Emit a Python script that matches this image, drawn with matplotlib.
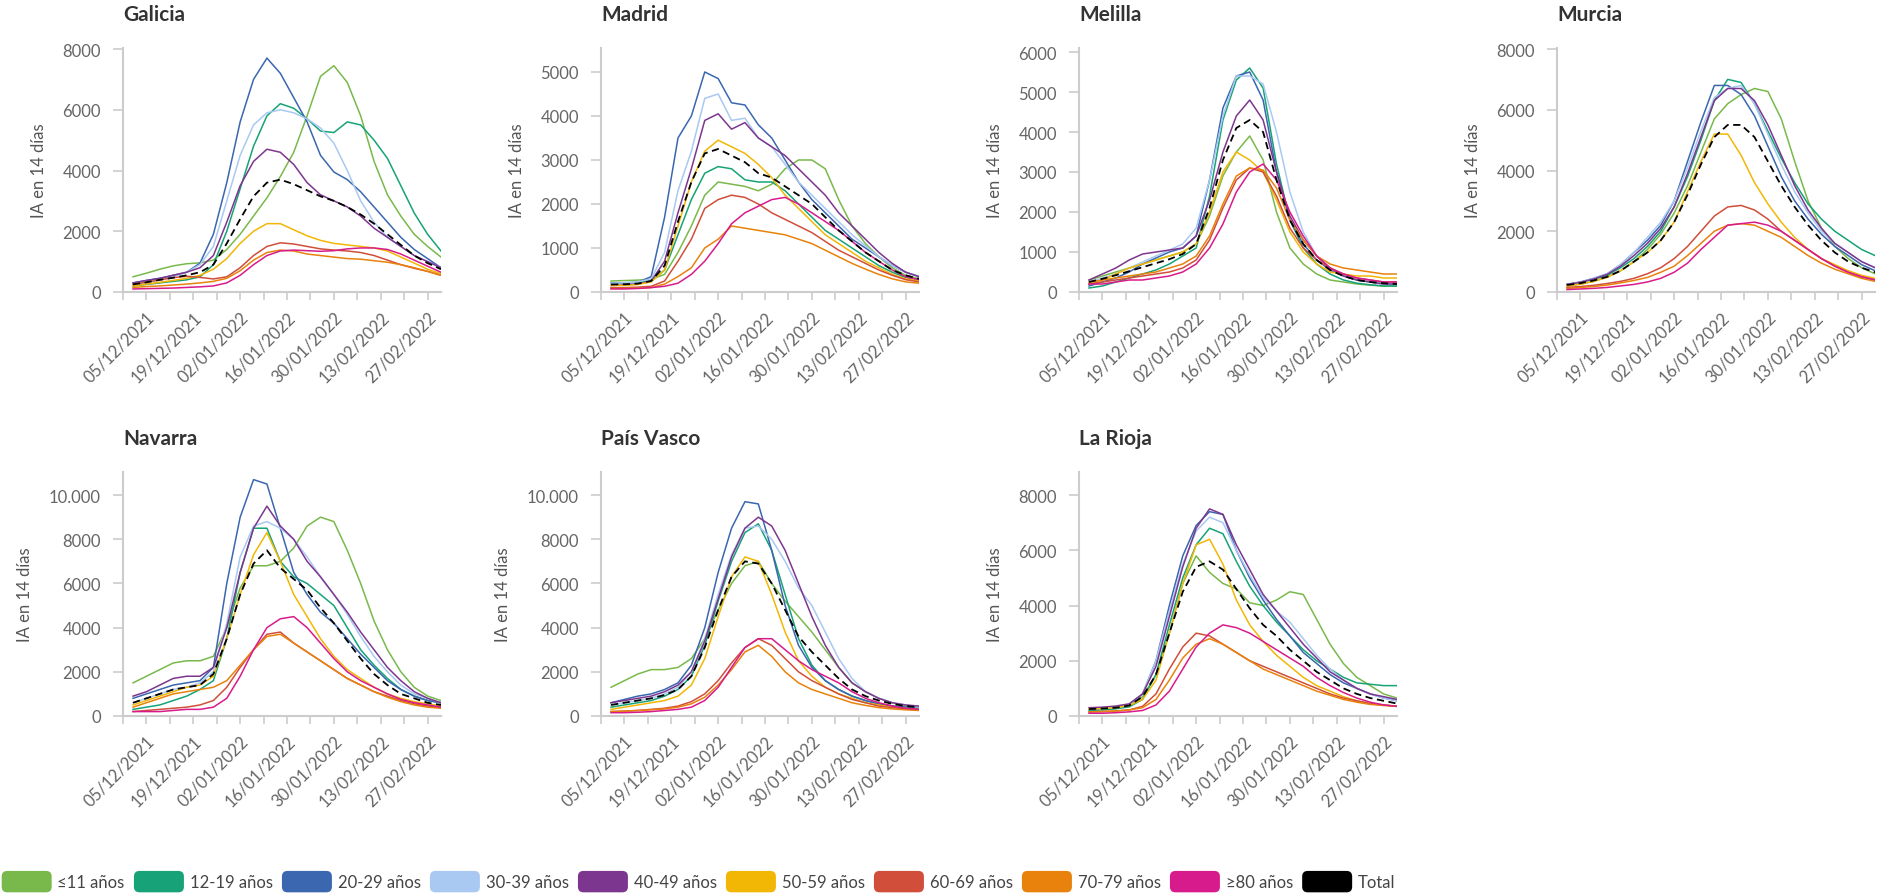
import matplotlib
matplotlib.use('Agg')
import matplotlib.pyplot as plt
import matplotlib.ticker as mticker
from matplotlib.patches import Patch, FancyBboxPatch
from matplotlib.legend_handler import HandlerPatch
import pandas as pd

plt.rcParams['font.family'] = ['Lato', 'DejaVu Sans']

# one sample every 4 days, 01/12/2021 .. 03/03/2022
dates = pd.date_range('2021-12-01', periods=24, freq='4D')

groups = ['≤11 años', '12-19 años', '20-29 años', '30-39 años', '40-49 años',
          '50-59 años', '60-69 años', '70-79 años', '≥80 años', 'Total']
colors = ['#79b94b', '#17a277', '#3a67b0', '#a9c9f2', '#7d368f',
          '#f2b705', '#d04e3a', '#e8820c', '#d81b8c', '#000000']

# ---- Galicia
galicia_11 = [500, 620, 750, 860, 930, 960, 1050, 1400, 1900, 2500, 3100, 3800, 4600, 5800, 7100, 7450, 6900, 5800, 4300, 3200, 2500, 1900, 1500, 1150]
galicia_12 = [200, 250, 300, 350, 400, 500, 900, 2000, 3400, 4800, 5800, 6200, 6050, 5700, 5300, 5250, 5600, 5500, 5000, 4400, 3500, 2600, 1900, 1350]
galicia_20 = [300, 380, 450, 550, 650, 950, 1900, 3600, 5600, 7000, 7700, 7200, 6400, 5600, 4500, 3950, 3700, 3300, 2800, 2300, 1800, 1400, 1100, 800]
galicia_30 = [250, 320, 400, 500, 650, 900, 1500, 3000, 4500, 5500, 5900, 6000, 5900, 5700, 5400, 4900, 4000, 3000, 2300, 1800, 1500, 1200, 1000, 800]
galicia_40 = [300, 380, 450, 550, 650, 800, 1200, 2300, 3500, 4300, 4700, 4600, 4200, 3600, 3200, 3000, 2800, 2500, 2100, 1800, 1500, 1200, 1000, 800]
galicia_50 = [200, 260, 320, 380, 450, 550, 750, 1100, 1600, 2000, 2250, 2250, 2050, 1850, 1700, 1600, 1550, 1500, 1450, 1350, 1150, 950, 750, 600]
galicia_60 = [260, 320, 400, 470, 520, 480, 430, 500, 800, 1200, 1500, 1620, 1580, 1500, 1420, 1380, 1350, 1300, 1200, 1050, 900, 780, 680, 550]
galicia_70 = [150, 180, 200, 230, 260, 300, 350, 450, 700, 1050, 1300, 1380, 1350, 1250, 1200, 1150, 1100, 1080, 1030, 980, 900, 800, 680, 550]
galicia_80 = [100, 110, 120, 130, 150, 170, 200, 300, 550, 900, 1200, 1350, 1380, 1360, 1340, 1360, 1420, 1450, 1450, 1400, 1250, 1050, 850, 650]
galicia_t = [250, 320, 400, 470, 550, 650, 900, 1600, 2400, 3150, 3600, 3700, 3550, 3350, 3150, 3000, 2800, 2550, 2250, 1900, 1550, 1200, 950, 750]

# ---- Madrid
madrid_11 = [250, 260, 270, 290, 400, 900, 1500, 2200, 2500, 2450, 2400, 2300, 2450, 2800, 3000, 3000, 2800, 2100, 1500, 1100, 800, 550, 380, 300]
madrid_12 = [200, 210, 220, 250, 500, 1300, 2100, 2700, 2850, 2800, 2550, 2500, 2500, 2300, 2000, 1700, 1400, 1200, 1000, 800, 600, 450, 330, 280]
madrid_20 = [200, 200, 220, 350, 1700, 3500, 4000, 5000, 4850, 4300, 4250, 3800, 3500, 3000, 2500, 2100, 1800, 1500, 1200, 1000, 800, 600, 450, 350]
madrid_30 = [200, 210, 230, 300, 900, 2300, 3200, 4400, 4500, 3900, 3950, 3500, 3300, 2900, 2500, 2200, 1900, 1600, 1300, 1050, 800, 600, 450, 350]
madrid_40 = [150, 160, 180, 250, 700, 1800, 2800, 3900, 4050, 3700, 3850, 3500, 3300, 3100, 2800, 2500, 2200, 1800, 1500, 1200, 900, 650, 450, 350]
madrid_50 = [150, 150, 170, 230, 500, 1500, 2500, 3200, 3450, 3300, 3150, 2900, 2600, 2200, 1900, 1600, 1300, 1100, 900, 700, 550, 400, 300, 250]
madrid_60 = [100, 100, 110, 130, 250, 700, 1200, 1900, 2100, 2200, 2150, 2000, 1800, 1650, 1500, 1350, 1150, 950, 800, 650, 500, 380, 280, 230]
madrid_70 = [80, 80, 90, 100, 180, 350, 550, 1000, 1200, 1500, 1450, 1400, 1350, 1300, 1200, 1100, 950, 800, 650, 520, 400, 300, 230, 200]
madrid_80 = [70, 70, 80, 100, 130, 200, 400, 700, 1100, 1550, 1800, 1950, 2100, 2150, 2000, 1800, 1600, 1400, 1150, 900, 700, 500, 350, 280]
madrid_t = [170, 175, 190, 250, 600, 1600, 2500, 3150, 3250, 3100, 2950, 2700, 2600, 2400, 2200, 2000, 1700, 1400, 1150, 900, 700, 500, 380, 300]

# ---- Melilla
melilla_11 = [300, 400, 500, 600, 700, 800, 900, 1000, 1200, 1900, 2900, 3500, 3900, 3300, 2000, 1100, 700, 450, 300, 250, 200, 170, 150, 150]
melilla_12 = [100, 150, 250, 350, 450, 550, 700, 900, 1100, 2400, 4300, 5300, 5600, 5100, 3200, 1800, 1100, 700, 450, 300, 220, 180, 150, 150]
melilla_20 = [150, 250, 350, 500, 700, 850, 1000, 1100, 1400, 2800, 4600, 5400, 5500, 4800, 3000, 1800, 1200, 800, 550, 400, 300, 250, 200, 200]
melilla_30 = [250, 350, 450, 600, 750, 900, 1050, 1200, 1600, 2800, 4400, 5400, 5400, 5200, 4000, 2500, 1500, 900, 600, 400, 300, 250, 200, 200]
melilla_40 = [300, 450, 600, 800, 950, 1000, 1050, 1100, 1400, 2300, 3500, 4400, 4800, 4300, 3000, 1900, 1300, 900, 600, 400, 300, 250, 200, 200]
melilla_50 = [200, 300, 450, 600, 700, 800, 900, 1000, 1200, 2000, 3000, 3500, 3300, 3000, 2300, 1500, 1000, 700, 500, 450, 400, 400, 350, 350]
melilla_60 = [200, 250, 300, 350, 400, 450, 500, 600, 800, 1300, 2100, 2800, 3100, 3000, 2400, 1600, 1100, 800, 600, 450, 350, 300, 250, 250]
melilla_70 = [250, 300, 350, 400, 450, 500, 600, 700, 900, 1400, 2200, 2900, 3100, 3050, 2600, 1800, 1300, 900, 700, 600, 550, 500, 450, 450]
melilla_80 = [200, 200, 250, 300, 300, 350, 400, 500, 700, 1100, 1700, 2500, 3000, 3200, 2800, 2000, 1400, 900, 600, 450, 350, 300, 250, 250]
melilla_t = [250, 330, 420, 520, 620, 720, 820, 950, 1200, 2100, 3300, 4100, 4300, 4000, 2800, 1800, 1200, 800, 550, 400, 300, 250, 220, 200]

# ---- Murcia
murcia_11 = [200, 260, 350, 500, 700, 1000, 1400, 1900, 2600, 3500, 4600, 5700, 6200, 6500, 6700, 6600, 5700, 4300, 3000, 2100, 1500, 1100, 800, 600]
murcia_12 = [250, 320, 420, 550, 800, 1100, 1500, 2000, 2800, 3800, 5000, 6300, 7000, 6900, 6200, 5300, 4400, 3600, 2900, 2400, 2000, 1700, 1400, 1200]
murcia_20 = [250, 330, 450, 600, 900, 1300, 1700, 2200, 3000, 4300, 5600, 6800, 6800, 6500, 5800, 4800, 3800, 3000, 2400, 1900, 1500, 1200, 900, 700]
murcia_30 = [250, 330, 450, 600, 900, 1300, 1800, 2300, 3000, 4100, 5300, 6400, 6700, 6800, 6200, 5200, 4200, 3300, 2600, 2000, 1600, 1300, 1000, 800]
murcia_40 = [250, 320, 430, 580, 850, 1200, 1600, 2100, 2800, 3900, 5100, 6300, 6700, 6700, 6300, 5500, 4500, 3500, 2700, 2100, 1600, 1300, 1000, 800]
murcia_50 = [200, 260, 350, 480, 700, 1000, 1300, 1700, 2300, 3300, 4300, 5200, 5200, 4500, 3600, 2900, 2300, 1800, 1400, 1100, 900, 700, 550, 450]
murcia_60 = [150, 180, 220, 280, 350, 450, 600, 800, 1100, 1500, 2000, 2500, 2800, 2850, 2700, 2400, 2000, 1700, 1400, 1100, 850, 650, 500, 400]
murcia_70 = [120, 150, 180, 230, 300, 380, 480, 650, 850, 1200, 1600, 2000, 2200, 2250, 2200, 2000, 1800, 1500, 1200, 950, 750, 600, 450, 350]
murcia_80 = [80, 100, 120, 150, 200, 250, 330, 450, 650, 950, 1400, 1800, 2200, 2250, 2300, 2200, 2000, 1700, 1400, 1100, 850, 650, 500, 400]
murcia_t = [230, 290, 380, 500, 700, 1000, 1300, 1700, 2300, 3200, 4200, 5100, 5500, 5500, 5100, 4300, 3500, 2800, 2200, 1700, 1300, 1000, 800, 650]

# ---- Navarra
navarra_11 = [1500, 1800, 2100, 2400, 2500, 2500, 2700, 4000, 5800, 6800, 6800, 7000, 7600, 8600, 9000, 8800, 7500, 6000, 4300, 3000, 2000, 1300, 900, 700]
navarra_12 = [300, 400, 500, 700, 900, 1200, 1600, 3500, 6500, 8500, 8500, 7000, 6300, 6000, 5500, 5000, 4000, 3000, 2300, 1700, 1200, 900, 700, 600]
navarra_20 = [800, 1000, 1200, 1400, 1500, 1600, 2200, 6000, 9000, 10700, 10500, 8500, 6500, 5500, 4700, 4200, 3500, 2800, 2200, 1600, 1200, 900, 700, 600]
navarra_30 = [600, 800, 1000, 1200, 1300, 1500, 2000, 4200, 7200, 8600, 8800, 8500, 8000, 7200, 6300, 5500, 4600, 3600, 2700, 2000, 1400, 1000, 800, 600]
navarra_40 = [900, 1100, 1400, 1700, 1800, 1800, 2200, 4000, 6500, 8500, 9500, 8600, 8000, 7000, 6300, 5500, 4700, 3800, 3000, 2200, 1600, 1100, 800, 600]
navarra_50 = [500, 700, 900, 1100, 1300, 1400, 1800, 3500, 5500, 7300, 8300, 7000, 5500, 4500, 3500, 2700, 2100, 1700, 1300, 1000, 800, 650, 550, 450]
navarra_60 = [200, 250, 300, 350, 400, 500, 700, 1300, 2200, 3000, 3700, 3800, 3300, 2900, 2500, 2100, 1700, 1400, 1100, 900, 700, 550, 450, 400]
navarra_70 = [400, 600, 800, 1000, 1100, 1200, 1300, 1600, 2300, 3000, 3600, 3700, 3300, 2900, 2500, 2100, 1700, 1400, 1100, 850, 650, 500, 400, 350]
navarra_80 = [200, 200, 200, 250, 300, 300, 400, 800, 1800, 3000, 4000, 4400, 4500, 4000, 3300, 2600, 2000, 1600, 1300, 1000, 750, 600, 500, 400]
navarra_t = [600, 800, 1000, 1200, 1300, 1400, 1900, 3500, 5500, 6900, 7500, 6700, 6200, 5700, 4900, 4200, 3400, 2600, 1900, 1400, 1000, 800, 600, 500]

# ---- País Vasco
pvasco_11 = [1300, 1600, 1900, 2100, 2100, 2200, 2600, 3500, 4800, 6000, 6800, 7000, 6000, 5200, 4500, 3800, 3000, 2200, 1500, 1100, 800, 600, 450, 400]
pvasco_12 = [400, 500, 600, 700, 900, 1200, 1800, 3200, 5200, 7000, 8300, 8700, 7500, 5500, 3500, 2300, 1600, 1200, 900, 700, 550, 450, 400, 350]
pvasco_20 = [600, 750, 900, 1000, 1200, 1500, 2300, 4000, 6500, 8500, 9700, 9600, 7500, 5000, 3200, 2200, 1600, 1200, 900, 700, 550, 450, 400, 350]
pvasco_30 = [500, 600, 700, 800, 1000, 1300, 2000, 3500, 5500, 7300, 8500, 8600, 8000, 7000, 5800, 5000, 3800, 2600, 1700, 1100, 800, 600, 500, 400]
pvasco_40 = [600, 700, 800, 900, 1100, 1400, 2000, 3400, 5300, 7200, 8500, 9000, 8600, 7500, 6000, 4500, 3200, 2200, 1500, 1100, 800, 600, 500, 450]
pvasco_50 = [300, 400, 500, 600, 700, 900, 1400, 2600, 4500, 6300, 7200, 7000, 5500, 3800, 2500, 1800, 1300, 1000, 800, 600, 500, 400, 350, 300]
pvasco_60 = [200, 220, 250, 300, 350, 450, 650, 1000, 1600, 2400, 3100, 3500, 3200, 2600, 2000, 1600, 1300, 1000, 750, 600, 450, 380, 320, 280]
pvasco_70 = [200, 220, 250, 280, 320, 400, 550, 850, 1400, 2100, 2900, 3200, 2700, 2000, 1500, 1200, 1000, 800, 600, 480, 380, 320, 280, 250]
pvasco_80 = [150, 150, 170, 200, 250, 300, 400, 700, 1300, 2200, 3100, 3500, 3500, 3000, 2500, 2100, 1800, 1500, 1100, 800, 600, 450, 350, 300]
pvasco_t = [500, 600, 700, 800, 950, 1200, 1800, 3100, 4800, 6300, 7000, 6900, 6000, 4800, 3600, 2900, 2300, 1700, 1200, 900, 700, 550, 450, 400]

# ---- La Rioja
rioja_11 = [250, 280, 320, 400, 700, 1500, 3000, 4800, 5800, 5200, 4800, 4600, 4100, 4000, 4200, 4500, 4400, 3500, 2600, 1900, 1400, 1100, 800, 650]
rioja_12 = [200, 220, 260, 330, 600, 1500, 3300, 5000, 6200, 6800, 6600, 5600, 4700, 4000, 3400, 2900, 2400, 2000, 1700, 1400, 1200, 1150, 1100, 1100]
rioja_20 = [250, 280, 330, 420, 800, 2000, 4000, 5800, 6900, 7400, 7300, 6000, 5000, 4200, 3500, 2900, 2300, 1900, 1500, 1200, 1000, 800, 650, 550]
rioja_30 = [250, 280, 320, 400, 800, 2000, 3800, 5500, 6700, 7200, 7000, 6000, 5100, 4300, 3800, 3400, 2800, 2200, 1700, 1300, 1000, 800, 650, 550]
rioja_40 = [300, 320, 360, 440, 800, 1800, 3600, 5400, 6800, 7500, 7300, 6200, 5300, 4400, 3800, 3200, 2600, 2100, 1600, 1300, 1000, 800, 700, 600]
rioja_50 = [250, 270, 300, 380, 600, 1300, 3000, 4800, 6200, 6400, 5500, 4200, 3300, 2700, 2200, 1800, 1400, 1100, 900, 700, 550, 450, 400, 350]
rioja_60 = [150, 160, 180, 220, 350, 800, 1700, 2500, 3000, 2900, 2600, 2300, 2000, 1800, 1600, 1400, 1200, 1000, 800, 650, 550, 450, 400, 350]
rioja_70 = [150, 160, 180, 220, 300, 600, 1300, 2100, 2600, 2800, 2600, 2300, 2000, 1700, 1500, 1300, 1100, 900, 750, 600, 500, 420, 380, 350]
rioja_80 = [100, 100, 120, 150, 200, 400, 900, 1700, 2500, 3000, 3300, 3200, 3000, 2700, 2400, 2100, 1800, 1400, 1100, 850, 650, 500, 400, 350]
rioja_t = [250, 270, 300, 380, 700, 1500, 3000, 4500, 5400, 5600, 5300, 4600, 3900, 3300, 2900, 2400, 2000, 1600, 1300, 1000, 800, 650, 550, 450]

panels = [
    ('Galicia', [galicia_11, galicia_12, galicia_20, galicia_30, galicia_40, galicia_50, galicia_60, galicia_70, galicia_80, galicia_t], 8033, 2000),
    ('Madrid', [madrid_11, madrid_12, madrid_20, madrid_30, madrid_40, madrid_50, madrid_60, madrid_70, madrid_80, madrid_t], 5545, 1000),
    ('Melilla', [melilla_11, melilla_12, melilla_20, melilla_30, melilla_40, melilla_50, melilla_60, melilla_70, melilla_80, melilla_t], 6100, 1000),
    ('Murcia', [murcia_11, murcia_12, murcia_20, murcia_30, murcia_40, murcia_50, murcia_60, murcia_70, murcia_80, murcia_t], 8033, 2000),
    ('Navarra', [navarra_11, navarra_12, navarra_20, navarra_30, navarra_40, navarra_50, navarra_60, navarra_70, navarra_80, navarra_t], 11045, 2000),
    ('País Vasco', [pvasco_11, pvasco_12, pvasco_20, pvasco_30, pvasco_40, pvasco_50, pvasco_60, pvasco_70, pvasco_80, pvasco_t], 11045, 2000),
    ('La Rioja', [rioja_11, rioja_12, rioja_20, rioja_30, rioja_40, rioja_50, rioja_60, rioja_70, rioja_80, rioja_t], 8836, 2000),
]

W, H = 1881, 895
fig = plt.figure(figsize=(W / 100, H / 100), dpi=100)

label_days = pd.date_range('2021-12-05', '2022-02-27', freq='14D')
other_days = pd.date_range('2021-11-28', '2022-02-20', freq='14D')
grey = '#cccccc'


def fmt_num(v, pos):
    v = int(round(v))
    if v >= 10000:
        return '{:,}'.format(v).replace(',', '.')
    return str(v)


for i, (name, series, ymax, ystep) in enumerate(panels):
    row, col = divmod(i, 4)
    left = 123 + 478 * col
    top = 49 + 424 * row
    ax = fig.add_axes([left / W, 1 - (top + 244) / H, 318 / W, 244 / H])

    for vals, c, g in zip(series, colors, groups):
        if g == 'Total':
            ax.plot(dates, vals, color=c, lw=1.3, ls=(0, (4, 2.5)), zorder=5)
        else:
            ax.plot(dates, vals, color=c, lw=1.1, zorder=3)

    ax.set_xlim(pd.Timestamp('2021-11-28'), pd.Timestamp('2022-03-03'))
    ax.set_ylim(0, ymax)
    ax.yaxis.set_major_locator(mticker.MultipleLocator(ystep))
    ax.yaxis.set_major_formatter(mticker.FuncFormatter(fmt_num))
    ax.set_xticks(label_days)
    ax.set_xticklabels([d.strftime('%d/%m/%Y') for d in label_days],
                       rotation=45, ha='right', va='top', rotation_mode='anchor')
    ax.set_xticks(other_days, minor=True)

    for s in ['top', 'right']:
        ax.spines[s].set_visible(False)
    for s in ['left', 'bottom']:
        ax.spines[s].set_color(grey)
        ax.spines[s].set_linewidth(1.5)
    ax.tick_params(axis='y', colors=grey, labelcolor='#666666', labelsize=12,
                   length=7, width=1.2, pad=9)
    ax.tick_params(axis='x', which='both', colors=grey, labelcolor='#666666',
                   labelsize=12, length=6, width=1.2, pad=6)
    ax.set_ylabel('IA en 14 días', fontsize=12, color='#555555', labelpad=11)
    ax.set_title(name, loc='left', fontsize=15, fontweight='bold',
                 color='#333333', pad=20)


def rounded_box(legend, orig_handle, xdescent, ydescent, width, height, fontsize):
    return FancyBboxPatch((-xdescent, -ydescent), width, height,
                          boxstyle='round,pad=0,rounding_size=4')


handles = [Patch(facecolor=c, edgecolor='none') for c in colors]
fig.legend(handles, groups, loc='lower left', bbox_to_anchor=(0.0, 0.0),
           ncol=10, frameon=False, fontsize=12, handlelength=3.0,
           handleheight=1.6, handletextpad=0.35, columnspacing=0.55,
           borderpad=0.1, borderaxespad=0.0, labelcolor='#444444',
           handler_map={Patch: HandlerPatch(patch_func=rounded_box)})

fig.savefig('out.png', dpi=100)
